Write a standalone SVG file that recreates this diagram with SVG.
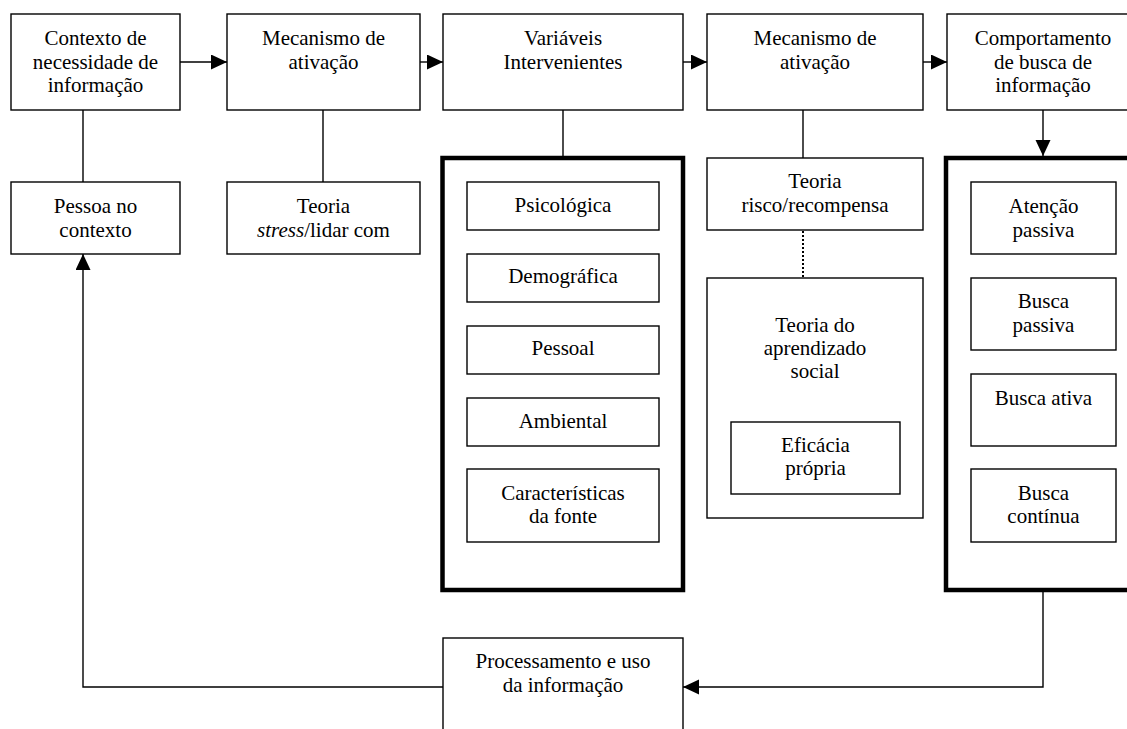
<svg xmlns="http://www.w3.org/2000/svg" width="1127" height="729" viewBox="0 0 1127 729">
<style>
.box{fill:#fff;stroke:#000;stroke-width:1.4}
.heavy{fill:#fff;stroke:#000;stroke-width:4.5}
text{font-family:"Liberation Serif","Times New Roman",serif;font-size:21px;fill:#000;text-anchor:middle}
.ln{fill:none;stroke:#000;stroke-width:1.4}
.dot{fill:none;stroke:#000;stroke-width:2;stroke-dasharray:2 2}
</style>
<defs>
<marker id="ah" markerUnits="userSpaceOnUse" markerWidth="17" markerHeight="16" refX="16" refY="7.5" orient="auto">
<path d="M0,0 L16,7.5 L0,15 z" fill="#000"/>
</marker>
</defs>
<rect width="1127" height="729" fill="#fff"/>
<g id="connectors">
<line class="ln" x1="180" y1="62" x2="227" y2="62" marker-end="url(#ah)"/>
<line class="ln" x1="420" y1="62" x2="443" y2="62" marker-end="url(#ah)"/>
<line class="ln" x1="683" y1="62" x2="707" y2="62" marker-end="url(#ah)"/>
<line class="ln" x1="923" y1="62" x2="947" y2="62" marker-end="url(#ah)"/>
<line class="ln" x1="1043" y1="110" x2="1043" y2="156" marker-end="url(#ah)"/>
<line class="ln" x1="83" y1="110" x2="83" y2="182"/>
<line class="ln" x1="323" y1="110" x2="323" y2="182"/>
<line class="ln" x1="563" y1="110" x2="563" y2="156"/>
<line class="ln" x1="803" y1="110" x2="803" y2="158"/>
<line class="dot" x1="803" y1="231" x2="803" y2="277"/>
<polyline class="ln" points="1043,592 1043,687 683,687" marker-end="url(#ah)"/>
<polyline class="ln" points="443,687 83,687 83,254" marker-end="url(#ah)"/>
</g>
<g id="contexto">
<rect class="box" x="11" y="14" width="169" height="96"/>
<text x="95.5" y="45">Contexto de</text>
<text x="95.5" y="68.5">necessidade de</text>
<text x="95.5" y="92">informação</text>
</g>
<g id="mecanismo1">
<rect class="box" x="227" y="14" width="193" height="96"/>
<text x="323.5" y="45">Mecanismo de</text>
<text x="323.5" y="68.5">ativação</text>
</g>
<g id="variaveis">
<rect class="box" x="443" y="14" width="240" height="96"/>
<text x="563" y="45">Variáveis</text>
<text x="563" y="68.5">Intervenientes</text>
</g>
<g id="mecanismo2">
<rect class="box" x="707" y="14" width="216" height="96"/>
<text x="815" y="45">Mecanismo de</text>
<text x="815" y="68.5">ativação</text>
</g>
<g id="comportamento">
<rect class="box" x="947" y="14" width="193" height="96"/>
<text x="1043" y="45">Comportamento</text>
<text x="1043" y="68.5">de busca de</text>
<text x="1043" y="92">informação</text>
</g>
<g id="pessoa">
<rect class="box" x="11" y="182" width="169" height="72"/>
<text x="95.5" y="213">Pessoa no</text>
<text x="95.5" y="237">contexto</text>
</g>
<g id="teoria-stress">
<rect class="box" x="227" y="182" width="193" height="72"/>
<text x="323.5" y="213">Teoria</text>
<text x="323.5" y="237"><tspan font-style="italic">stress</tspan>/lidar com</text>
</g>
<g id="grupo-variaveis">
<rect class="heavy" x="442.5" y="158" width="240.5" height="432"/>
<g id="psicologica"><rect class="box" x="467" y="182" width="192" height="48"/><text x="563" y="212">Psicológica</text></g>
<g id="demografica"><rect class="box" x="467" y="254" width="192" height="48"/><text x="563" y="283">Demográfica</text></g>
<g id="pessoal"><rect class="box" x="467" y="326" width="192" height="48"/><text x="563" y="355">Pessoal</text></g>
<g id="ambiental"><rect class="box" x="467" y="398" width="192" height="48"/><text x="563" y="428">Ambiental</text></g>
<g id="caracteristicas"><rect class="box" x="467" y="469" width="192" height="73"/><text x="563" y="500">Características</text><text x="563" y="523">da fonte</text></g>
</g>
<g id="teoria-risco">
<rect class="box" x="707" y="158" width="216" height="72"/>
<text x="815" y="188">Teoria</text>
<text x="815" y="212">risco/recompensa</text>
</g>
<g id="teoria-aprendizado">
<rect class="box" x="707" y="278" width="216" height="240"/>
<text x="815" y="332">Teoria do</text>
<text x="815" y="355">aprendizado</text>
<text x="815" y="378">social</text>
<g id="eficacia"><rect class="box" x="731" y="422" width="169" height="72"/><text x="815.5" y="452">Eficácia</text><text x="815.5" y="475">própria</text></g>
</g>
<g id="grupo-busca">
<rect class="heavy" x="946" y="158" width="240" height="432"/>
<g id="atencao"><rect class="box" x="971" y="182" width="145" height="72"/><text x="1043.5" y="213">Atenção</text><text x="1043.5" y="237">passiva</text></g>
<g id="busca-passiva"><rect class="box" x="971" y="278" width="145" height="72"/><text x="1043.5" y="308">Busca</text><text x="1043.5" y="332">passiva</text></g>
<g id="busca-ativa"><rect class="box" x="971" y="374" width="145" height="72"/><text x="1043.5" y="405">Busca ativa</text></g>
<g id="busca-continua"><rect class="box" x="971" y="469" width="145" height="73"/><text x="1043.5" y="500">Busca</text><text x="1043.5" y="523">contínua</text></g>
</g>
<g id="processamento">
<rect class="box" x="443" y="638" width="240" height="110"/>
<text x="563" y="668">Processamento e uso</text>
<text x="563" y="692">da informação</text>
</g>
</svg>
